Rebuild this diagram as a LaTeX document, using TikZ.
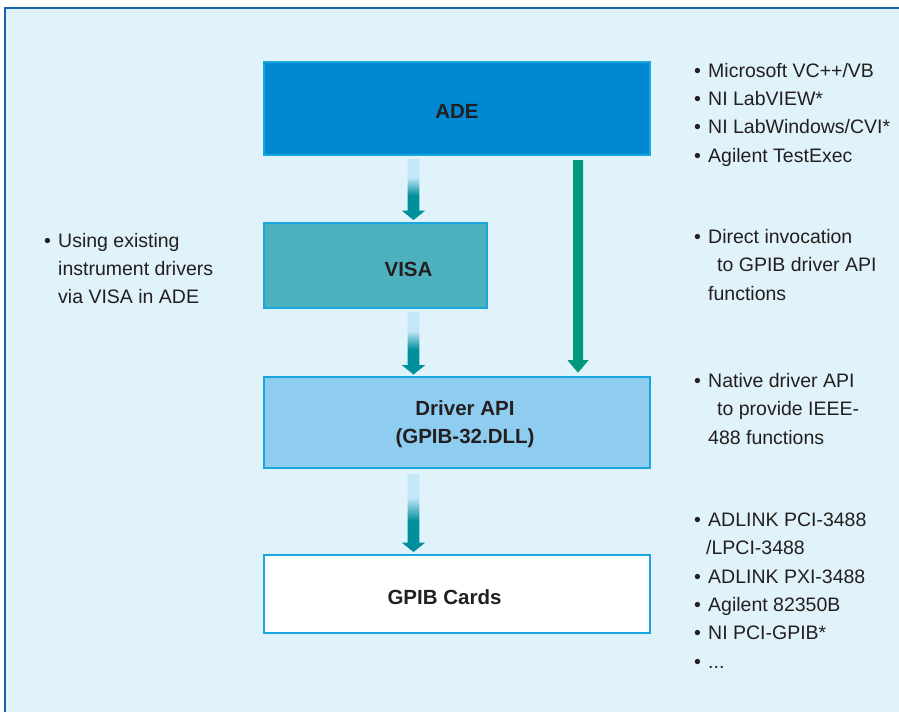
\documentclass[tikz,border=0pt]{standalone}
\usepackage{fontspec}
\setmainfont{Liberation Sans}
\usetikzlibrary{calc}
\definecolor{bg}{HTML}{E0F2FA}
\definecolor{frame}{HTML}{1565A8}
\definecolor{boxline}{HTML}{19A6DF}
\definecolor{adefill}{HTML}{0089D1}
\definecolor{visafill}{HTML}{4DB2BD}
\definecolor{drvfill}{HTML}{8FCDF0}
\definecolor{arrteal}{HTML}{008F9C}
\definecolor{arrlight}{HTML}{C5E8F8}
\definecolor{arrgreen}{HTML}{00997E}
\definecolor{txt}{HTML}{231F20}
\pgfdeclareverticalshading{tealgrad}{100bp}{color(0bp)=(arrteal); color(45bp)=(arrteal); color(60bp)=(arrlight); color(100bp)=(arrlight)}
% #1 x, #2 top y, #3 tip y, #4 half shaft, #5 half head, #6 head length
\newcommand\arrowpath[6]{(#1-#4,#2) -- (#1+#4,#2) -- (#1+#4,#3+#6) -- (#1+#5,#3+#6) -- (#1,#3) -- (#1-#5,#3+#6) -- (#1-#4,#3+#6) -- cycle}
\newcommand\bul{\makebox[14pt][l]{•}}
\begin{document}
\begin{tikzpicture}[x=1pt,y=-1pt,
  box/.style={draw=boxline, line width=2.5pt, rectangle, inner sep=0pt, outer sep=0pt},
  btxt/.style={font=\fontsize{20.5}{28.5}\selectfont\bfseries, text=txt, inner sep=0pt, align=center},
  item/.style={font=\fontsize{19.5}{28}\selectfont, text=txt, inner sep=0pt, anchor=base west},
  gradarrow/.style={shading=tealgrad},
  greenarrow/.style={fill=arrgreen}]
\useasboundingbox (0,0) rectangle (899,712);
\fill[bg] (5,7.5) rectangle (899,712);
\draw[frame, line width=2pt] (5,712) -- (5,7.5) -- (899,7.5);

% boxes
\node[box, fill=adefill, minimum width=386pt, minimum height=93pt] (ade) at (457,108.5) {};
\node[box, fill=visafill, minimum width=223pt, minimum height=85pt] (visa) at (375.5,265.5) {};
\node[box, fill=drvfill, minimum width=386pt, minimum height=91pt] (drv) at (457,422.5) {};
\node[box, fill=white, minimum width=386pt, minimum height=78pt] (gpib) at (457,594) {};

% box texts
\node[btxt, anchor=base] (adet) at (457,118.5) {ADE};
\node[btxt, anchor=base] (visat) at (408.5,276) {VISA};
\node[btxt, anchor=center] (drvt) at (465,424) {Driver API\\(GPIB-32.DLL)};
\node[btxt, anchor=base] (gpibt) at (444.5,604) {GPIB Cards};

% arrows
\path[gradarrow] let \p1=(ade.south), \p2=(visa.north) in \arrowpath{413.5}{\y1-4}{\y2+3}{5.8}{11.8}{9.5};
\path[gradarrow] let \p1=(visa.south), \p2=(drv.north) in \arrowpath{413.5}{\y1-4}{\y2+2.5}{5.8}{11.8}{9.5};
\path[gradarrow] let \p1=(drv.south), \p2=(gpib.north) in \arrowpath{413.5}{\y1-6}{\y2+3}{5.8}{11.8}{9.5};
\path[greenarrow] let \p1=(ade.south), \p2=(drv.north) in \arrowpath{578}{\y1-5}{\y2+4.3}{5}{10.5}{12.5};

% left note
\node[item] (l1) at (44,247) {\bul Using existing};
\node[item] (l2) at (58,275) {instrument drivers};
\node[item] (l3) at (58,303) {via VISA in ADE};

% right column
\node[item] (r1) at (694,77) {\bul Microsoft VC++/VB};
\node[item] (r2) at (694,105) {\bul NI LabVIEW*};
\node[item] (r3) at (694,133) {\bul NI LabWindows/CVI*};
\node[item] (r4) at (694,162) {\bul Agilent TestExec};

\node[item] (s1) at (694,243) {\bul Direct invocation};
\node[item] (s2) at (717,271) {to GPIB driver API};
\node[item] (s3) at (708,300) {functions};

\node[item] (t1) at (694,387) {\bul Native driver API};
\node[item] (t2) at (717,415) {to provide IEEE-};
\node[item] (t3) at (708,444) {488 functions};

\node[item] (u1) at (694,526) {\bul ADLINK PCI-3488};
\node[item] (u2) at (706,554) {/LPCI-3488};
\node[item] (u3) at (694,583) {\bul ADLINK PXI-3488};
\node[item] (u4) at (694,611) {\bul Agilent 82350B};
\node[item] (u5) at (694,639) {\bul NI PCI-GPIB*};
\node[item] (u6) at (694,668) {\bul ...};
\end{tikzpicture}
\end{document}
